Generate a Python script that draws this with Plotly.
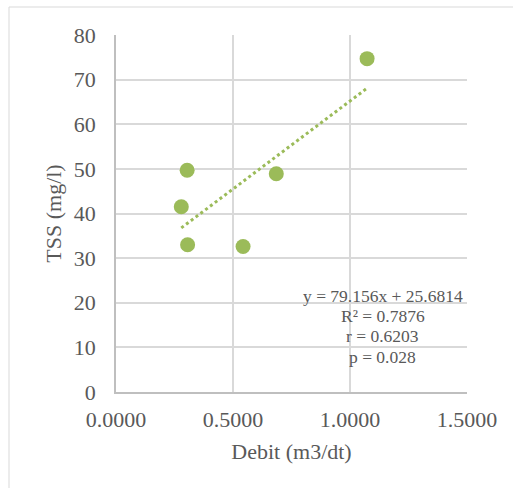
import numpy as np
import plotly.graph_objects as go

debit = [0.279, 0.304, 0.306, 0.543, 0.685, 1.073]
tss = [41.5, 49.7, 33.0, 32.6, 48.9, 74.7]
eq_lines = ["y = 79.156x + 25.6814", "R² = 0.7876", "r = 0.6203", "p = 0.028"]
eq_y = [21.58, 16.97, 12.48, 7.91]
eq_x = 1.141

slope, intercept = np.polyfit(debit, tss, 1)
tx = [min(debit), max(debit)]
ty = [slope * v + intercept for v in tx]

green = "#9BBB59"
font_fam = "Liberation Serif, Times New Roman, serif"
txt_col = "#595959"

fig = go.Figure()
fig.add_trace(go.Scatter(x=debit, y=tss, mode="markers",
                         marker=dict(color=green, size=15, line=dict(width=0)),
                         showlegend=False))
fig.add_trace(go.Scatter(x=tx, y=ty, mode="lines",
                         line=dict(color=green, width=3, dash="dot"),
                         showlegend=False))

for line, yv in zip(eq_lines, eq_y):
    fig.add_annotation(x=eq_x, y=yv, xref="x", yref="y",
                       text=line, showarrow=False,
                       font=dict(family=font_fam, size=17.5, color=txt_col),
                       align="center")

fig.add_shape(type="rect", xref="paper", yref="paper",
              x0=-0.3048, x1=1.3, y0=-0.4, y1=1.0784,
              line=dict(color="#D9D9D9", width=1), layer="below")

fig.update_xaxes(range=[0, 1.5], tickvals=[0, 0.5, 1.0, 1.5], tickformat=".4f",
                 showgrid=True, gridcolor="#D9D9D9", gridwidth=1.5,
                 showline=True, linecolor="#BFBFBF", linewidth=1.5,
                 zeroline=False, ticks="", ticklabelstandoff=7,
                 tickfont=dict(family=font_fam, size=22, color=txt_col),
                 title=dict(text="Debit (m3/dt)", standoff=12,
                            font=dict(family=font_fam, size=22, color=txt_col)))
fig.update_yaxes(range=[0, 80], dtick=10,
                 showgrid=True, gridcolor="#D9D9D9", gridwidth=1.5,
                 showline=True, linecolor="#BFBFBF", linewidth=1.5,
                 zeroline=False, ticks="", ticklabelstandoff=14,
                 tickfont=dict(family=font_fam, size=22, color=txt_col),
                 title=dict(text="TSS (mg/l)", standoff=6,
                            font=dict(family=font_fam, size=22, color=txt_col)))

fig.update_layout(width=513, height=488,
                  margin=dict(l=116, r=46, t=35, b=96),
                  plot_bgcolor="white", paper_bgcolor="white")

fig.write_html("out.html")
